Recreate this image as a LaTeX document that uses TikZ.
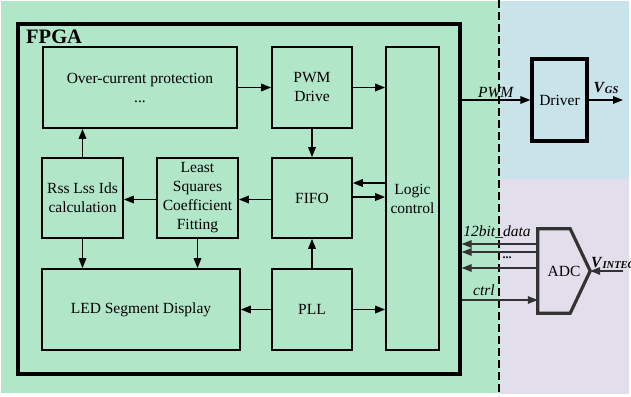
\documentclass[tikz,border=0pt]{standalone}
\usepackage{fontspec}
\setmainfont{Liberation Serif}
\usetikzlibrary{arrows.meta,calc}
\definecolor{bggreen}{HTML}{B2E6C9}
\definecolor{bgblue}{HTML}{C8E4EA}
\definecolor{bgpurple}{HTML}{E3DEEB}
\definecolor{adcgray}{HTML}{333333}
\tikzset{
  blk/.style={draw=black, line width=1.6pt, inner sep=0pt, align=center,
    font=\fontsize{15.5}{19}\selectfont},
  arr/.style={line width=1.6pt, -{Triangle[length=10pt,width=7.5pt]}},
  garr/.style={line width=1.6pt, draw=adcgray, -{Triangle[length=10pt,width=7.5pt]}},
  lbl/.style={font=\fontsize{15.5}{19}\selectfont, inner sep=1pt},
}
\begin{document}
\begin{tikzpicture}[x=1pt,y=-1pt]
\useasboundingbox (0,0) rectangle (631,396);
\begin{scope}
\clip (0,0) rectangle (631,396);
% backgrounds
\fill[white] (0,0) rectangle (631,396);
\fill[bggreen] (1,1) rectangle (499,393);
\fill[bgblue] (499,1) rectangle (629,179);
\fill[bgpurple] (499,179) rectangle (629,394);
\draw[line width=1.3pt, dash pattern=on 8pt off 4pt] (499,0) -- (499,396);

% FPGA frame
\node[draw=black, line width=3.4pt, minimum width=442pt, minimum height=350pt, inner sep=0pt] (fpga) at (239,199) {};
\node[font=\fontsize{20.5}{24}\selectfont\bfseries, anchor=base west, inner sep=0pt] (fpgalbl) at (26,44) {FPGA};

% blocks
\node[blk, minimum width=194pt, minimum height=81pt] (ocp) at (140,87.5) {Over-current protection\\...};
\node[blk, minimum width=80pt, minimum height=81pt] (pwm) at (312,87.5) {PWM\\Drive};
\node[blk, minimum width=53pt, minimum height=303pt] (logic) at (412.5,198.5) {Logic\\control};
\node[blk, minimum width=81pt, minimum height=80pt] (rss) at (82.5,198) {Rss Lss Ids\\calculation};
\node[blk, minimum width=81pt, minimum height=80pt] (ls) at (197.5,198) {Least\\Squares\\Coefficient\\Fitting};
\node[blk, minimum width=80pt, minimum height=80pt] (fifo) at (312,198) {FIFO};
\node[blk, minimum width=198pt, minimum height=81pt] (led) at (141,309.5) {LED Segment Display};
\node[blk, minimum width=80pt, minimum height=81pt] (pll) at (312,309.5) {PLL};

% internal connectors
\draw[arr] (ocp.east) -- (pwm.west);
\draw[arr] (pwm.east) -- (pwm.east -| logic.west);
\draw[arr] (pwm.south) -- (fifo.north);
\draw[arr] (rss.north) -- (rss.north |- ocp.south);
\draw[arr] ([yshift=15pt]logic.west |- fifo.east) -- ([yshift=15pt]fifo.east);
\draw[arr] ([yshift=1pt]fifo.east) -- ([yshift=1pt]fifo.east -| logic.west);
\draw[arr] ([yshift=-1.5pt]fifo.west) -- ([yshift=-1.5pt]ls.east);
\draw[arr] ([yshift=-1.5pt]ls.west) -- ([yshift=-1.5pt]rss.east);
\draw[arr] (rss.south) -- (rss.south |- led.north);
\draw[arr] (ls.south) -- (ls.south |- led.north);
\draw[arr] (pll.north) -- (fifo.south);
\draw[arr] (pll.west) -- (led.east);
\draw[arr] (pll.east) -- (pll.east -| logic.west);

% Driver
\node[blk, line width=3.2pt, minimum width=55pt, minimum height=82pt] (drv) at (559.5,100) {Driver};
\draw[arr] (fpga.east |- drv.west) -- node[lbl, above, pos=0.5] (pwmlbl) {\textit{PWM}} (drv.west);
\coordinate (vgsend) at (623,100);
\draw[arr] (drv.east) -- (vgsend);
\node[lbl, anchor=base] (vgslbl) at (606,92) {\textbf{\textit{V}}\raisebox{-0.25ex}{\fontsize{10.5}{12}\selectfont\textbf{\textit{GS}}}};

% ADC
\node[minimum width=52pt, minimum height=84pt, inner sep=0pt, font=\fontsize{15.5}{19}\selectfont] (adc) at (564,271) {ADC};
\draw[line width=3.2pt, draw=adcgray, line join=miter]
  (adc.north west) -- ([xshift=-20pt]adc.north east) -- (adc.east)
  -- ([xshift=-20pt]adc.south east) -- (adc.south west) -- cycle;
\draw[garr] ([yshift=27pt]adc.west) -- ([yshift=27pt]adc.west -| fpga.east);
\draw[garr] ([yshift=19pt]adc.west) -- ([yshift=19pt]adc.west -| fpga.east);
\draw[garr] ([yshift=3pt]adc.west) -- ([yshift=3pt]adc.west -| fpga.east);
\node[font=\fontsize{12}{14}\selectfont\bfseries, inner sep=0pt] (dots) at (507,258) {...};
\node[lbl, anchor=base] (datalbl) at (497,236) {\textit{12bit\_data}};
\draw[garr] ([yshift=-29pt]adc.west -| fpga.east) -- ([yshift=-29pt]adc.west);
\node[lbl, anchor=base] (ctrllbl) at (484,295) {\textit{ctrl}};
\coordinate (vinend) at (623,271);
\draw[garr] (vinend) -- (adc.east);
\node[lbl, anchor=base west, inner sep=0pt] (vinlbl) at (591,267) {\textbf{\textit{V}}\raisebox{-0.25ex}{\fontsize{10.5}{12}\selectfont\textbf{\textit{INTEG}}}};
\end{scope}
\end{tikzpicture}
\end{document}
